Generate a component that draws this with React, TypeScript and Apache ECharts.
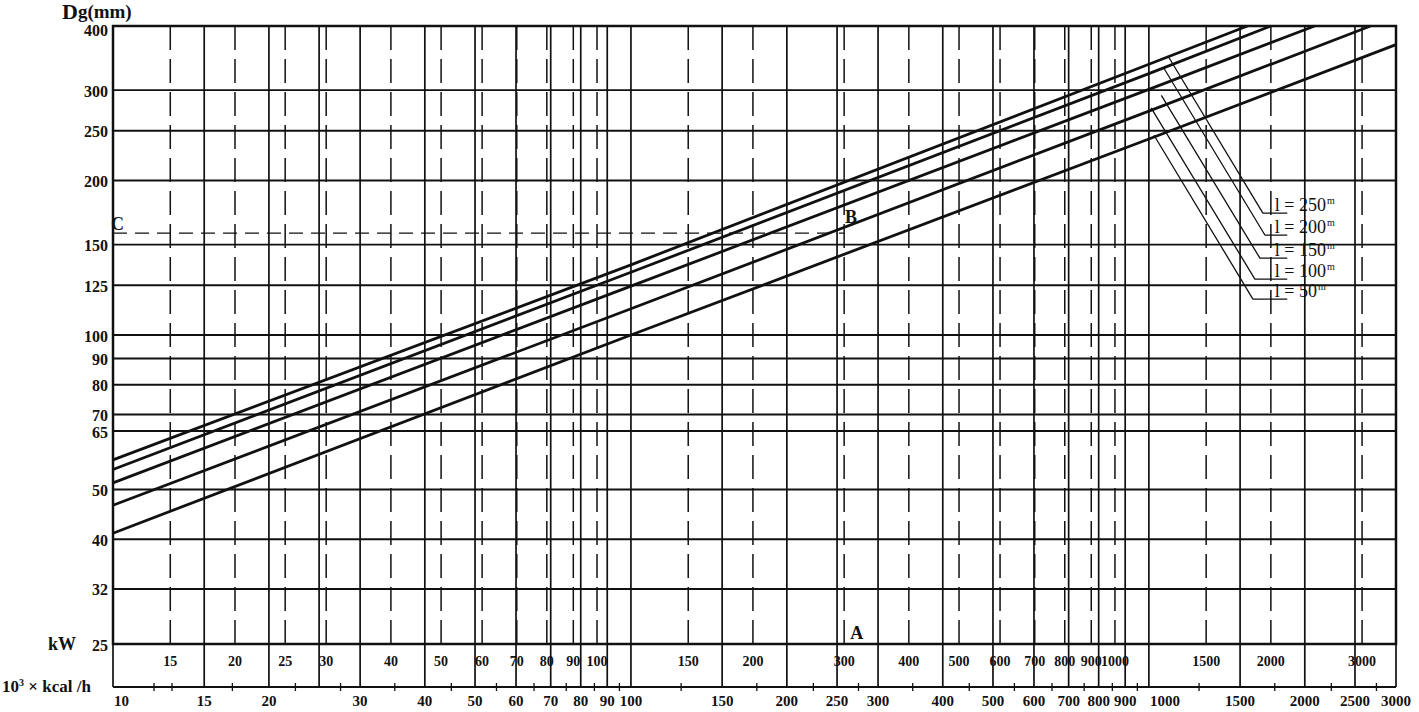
import React, { useEffect, useRef } from "react";
import * as echarts from "echarts";

// ---------- data ----------
// horizontal scale 1: 10^3 kcal/h (main x axis)
const kcalGrid = [10, 15, 20, 25, 30, 40, 50, 60, 70, 80, 90, 100, 150, 200, 250, 300, 400, 500, 600, 700, 800, 900, 1000, 1500, 2000, 2500, 3000];
const kcalLabeled = [10, 15, 20, 30, 40, 50, 60, 70, 80, 90, 100, 150, 200, 250, 300, 400, 500, 600, 700, 800, 900, 1000, 1500, 2000, 2500, 3000];
const kcalMinor = [12, 13, 17, 22.5, 27.5, 35, 45, 55, 65, 75, 85, 95, 125, 175, 225, 275, 350, 450, 550, 650, 750, 850, 950, 1250, 1750, 2250, 2750];
// horizontal scale 2: kW (1 kW = 0.86 x 10^3 kcal/h)
const kwTicks = [15, 20, 25, 30, 40, 50, 60, 70, 80, 90, 100, 150, 200, 300, 400, 500, 600, 700, 800, 900, 1000, 1500, 2000, 3000];
const KCAL_PER_KW = 0.86;
// vertical scale: Dg (mm)
const dgTicks = [25, 32, 40, 50, 65, 70, 80, 90, 100, 125, 150, 200, 250, 300, 400];

// pipe length curves  [10^3 kcal/h, Dg mm]
const curve250 = [[10, 57.1], [100, 137], [1000, 337], [1550, 400]];
const curve200 = [[10, 54.7], [100, 132.5], [1000, 323], [1720, 400]];
const curve150 = [[10, 51.5], [100, 124.5], [1000, 301], [2090, 400]];
const curve100 = [[10, 46.6], [100, 112.5], [1000, 273], [2680, 400]];
const curve50 = [[10, 41.1], [100, 100], [1000, 241], [3000, 368]];
const curves = [curve250, curve200, curve150, curve100, curve50];

// leader lines to the labels
const leader250 = [[1088, 350], [1660, 172.8], [1850, 172.8]];
const leader200 = [[1067, 332], [1675, 156.6], [1850, 156.6]];
const leader150 = [[1057, 293], [1638, 141.2], [1850, 141.2]];
const leader100 = [[1010, 277], [1602, 128.5], [1850, 128.5]];
const leader50 = [[1023, 245], [1588, 117.5], [1850, 117.5]];
const leaders = [leader250, leader200, leader150, leader100, leader50];
const lengthNames = ["250", "200", "150", "100", "50"];
const labelAnchorQ = 1750;

// worked example A -> B -> C
const exampleLine = [[10, 158], [258, 158]];
const exampleLetters = ["A", "B", "C"];
const examplePoints = [[273, 26.3], [266, 169.7], [10.2, 164.4]];

const SERIF = '"Liberation Serif", "DejaVu Serif", serif';
const INK = "#111";

export default function App() {
  const ref = useRef<HTMLDivElement>(null);

  useEffect(() => {
    document.body.style.margin = "0";
    document.body.style.overflow = "hidden";
    const chart = echarts.init(ref.current!, null, { renderer: "svg" });

    const Q0 = 10;
    const Q1 = 3000;
    const D0 = 25;
    const D1 = 400;

    const hGridRender = (params: any, api: any) => {
      const d = api.value(1);
      const p0 = api.coord([Q0, d]);
      const p1 = api.coord([Q1, d]);
      return {
        type: "group",
        children: [
          { type: "line", shape: { x1: p0[0], y1: p0[1], x2: p1[0], y2: p1[1] }, style: { stroke: INK, lineWidth: 1.8 } },
          {
            type: "text",
            x: p0[0] - 5,
            y: p0[1] + (d === D1 ? 4 : 1),
            style: { text: String(d), align: "right", verticalAlign: "middle", font: `bold 16px ${SERIF}`, fill: INK },
          },
        ],
      };
    };

    const kcalRender = (params: any, api: any) => {
      const q = api.value(0);
      const top = api.coord([q, D1]);
      const bot = api.coord([q, D0]);
      return {
        type: "line",
        shape: { x1: top[0], y1: top[1], x2: bot[0], y2: bot[1] + 43 },
        style: { stroke: INK, lineWidth: 1.7 },
      };
    };

    const kcalLabelRender = (params: any, api: any) => {
      const q = api.value(0);
      const bot = api.coord([q, D0]);
      const leftAligned = q === 10 || q === 1000;
      return {
        type: "text",
        x: bot[0] + (leftAligned ? 1 : 0),
        y: bot[1] + 57,
        style: { text: String(q), align: leftAligned ? "left" : "center", verticalAlign: "middle", font: `bold 15px ${SERIF}`, fill: INK },
      };
    };

    const kcalMinorRender = (params: any, api: any) => {
      const q = api.value(0);
      const bot = api.coord([q, D0]);
      return {
        type: "line",
        shape: { x1: bot[0], y1: bot[1] + 39, x2: bot[0], y2: bot[1] + 47 },
        style: { stroke: INK, lineWidth: 1.3 },
      };
    };

    const kcalAxisRender = (params: any, api: any) => {
      const a = api.coord([Q0, D0]);
      const b = api.coord([Q1, D0]);
      return {
        type: "line",
        shape: { x1: a[0], y1: a[1] + 43, x2: b[0], y2: b[1] + 43 },
        style: { stroke: INK, lineWidth: 2 },
      };
    };

    const kwRender = (params: any, api: any) => {
      const q = api.value(0);
      const top = api.coord([q, D1]);
      const bot = api.coord([q, D0]);
      return {
        type: "group",
        children: [
          {
            type: "line",
            shape: { x1: top[0], y1: top[1], x2: bot[0], y2: bot[1] + 6 },
            style: { stroke: INK, lineWidth: 1.5, lineDash: [24, 9] },
          },
          {
            type: "text",
            x: bot[0],
            y: bot[1] + 17,
            style: { text: String(kwTicks[params.dataIndex]), align: "center", verticalAlign: "middle", font: `bold 14px ${SERIF}`, fill: INK },
          },
        ],
      };
    };

    const lengthLabelRender = (params: any, api: any) => {
      const p = api.coord([api.value(0), api.value(1)]);
      return {
        type: "text",
        x: p[0],
        y: p[1] - 8,
        style: {
          text: `{a|l = ${lengthNames[params.dataIndex]}}{s|m}`,
          rich: {
            a: { font: `18px ${SERIF}`, fill: INK },
            s: { font: `10px ${SERIF}`, fill: INK, verticalAlign: "top", padding: [0, 0, 9, 1] },
          },
          align: "left",
          verticalAlign: "middle",
        },
      };
    };

    const letterRender = (params: any, api: any) => {
      const p = api.coord([api.value(0), api.value(1)]);
      return {
        type: "text",
        x: p[0],
        y: p[1],
        style: { text: exampleLetters[params.dataIndex], align: "center", verticalAlign: "middle", font: `bold 18px ${SERIF}`, fill: INK },
      };
    };

    const option: any = {
      animation: false,
      backgroundColor: "#fff",
      grid: { left: 113, right: 23, top: 26, bottom: 68, show: true, borderColor: INK, borderWidth: 2.5, backgroundColor: "transparent" },
      xAxis: {
        type: "log",
        logBase: 10,
        min: Q0,
        max: Q1,
        axisLine: { show: false },
        axisTick: { show: false },
        axisLabel: { show: false },
        splitLine: { show: false },
      },
      yAxis: {
        type: "log",
        logBase: 10,
        min: D0,
        max: D1,
        axisLine: { show: false },
        axisTick: { show: false },
        axisLabel: { show: false },
        splitLine: { show: false },
      },
      graphic: [
        {
          type: "text",
          left: 62,
          top: 0,
          style: {
            text: "{d|D}{g|g(mm)}",
            rich: {
              d: { font: `bold 22px ${SERIF}`, fill: INK },
              g: { font: `bold 19px ${SERIF}`, fill: INK },
            },
          },
        },
        {
          type: "text",
          left: 48,
          top: 635,
          style: { text: "kW", font: `bold 18px ${SERIF}`, fill: INK },
        },
        {
          type: "text",
          left: 2,
          top: 677,
          style: {
            text: "{a|10}{s|3}{a| × kcal /h}",
            rich: {
              a: { font: `bold 17px ${SERIF}`, fill: INK },
              s: { font: `bold 10px ${SERIF}`, fill: INK, verticalAlign: "top", padding: [0, 0, 8, 0] },
            },
          },
        },
      ],
      series: [
        { type: "custom", name: "hgrid", data: dgTicks.map((d) => [Q0, d]), renderItem: hGridRender, silent: true, z: 1 },
        { type: "custom", name: "kcalgrid", data: kcalGrid.map((q) => [q, D0]), renderItem: kcalRender, silent: true, z: 1 },
        { type: "custom", name: "kcallabels", data: kcalLabeled.map((q) => [q, D0]), renderItem: kcalLabelRender, silent: true, z: 1 },
        { type: "custom", name: "kcalminor", data: kcalMinor.map((q) => [q, D0]), renderItem: kcalMinorRender, silent: true, z: 1 },
        { type: "custom", name: "kcalaxis", data: [[Q0, D0]], renderItem: kcalAxisRender, silent: true, z: 1 },
        { type: "custom", name: "kwgrid", data: kwTicks.map((k) => [k * KCAL_PER_KW, D0]), renderItem: kwRender, silent: true, z: 1 },
        ...curves.map((c, i) => ({
          type: "line",
          name: "l" + lengthNames[i],
          data: c,
          symbol: "none",
          lineStyle: { color: INK, width: 2.8 },
          clip: true,
          z: 3,
        })),
        ...leaders.map((c, i) => ({
          type: "line",
          name: "leader" + lengthNames[i],
          data: c,
          symbol: "none",
          lineStyle: { color: INK, width: 1.3 },
          z: 3,
        })),
        {
          type: "custom",
          name: "lengthlabels",
          data: leaders.map((l) => [labelAnchorQ, l[2][1]]),
          renderItem: lengthLabelRender,
          silent: true,
          z: 4,
        },
        {
          type: "line",
          name: "example",
          data: exampleLine,
          symbol: "none",
          lineStyle: { color: INK, width: 1.3, type: [14, 8] },
          z: 2,
        },
        { type: "custom", name: "letters", data: examplePoints, renderItem: letterRender, silent: true, z: 4 },
      ],
    };

    chart.setOption(option);
    return () => chart.dispose();
  }, []);

  return <div ref={ref} style={{ width: 1419, height: 712, background: "#fff" }} />;
}
